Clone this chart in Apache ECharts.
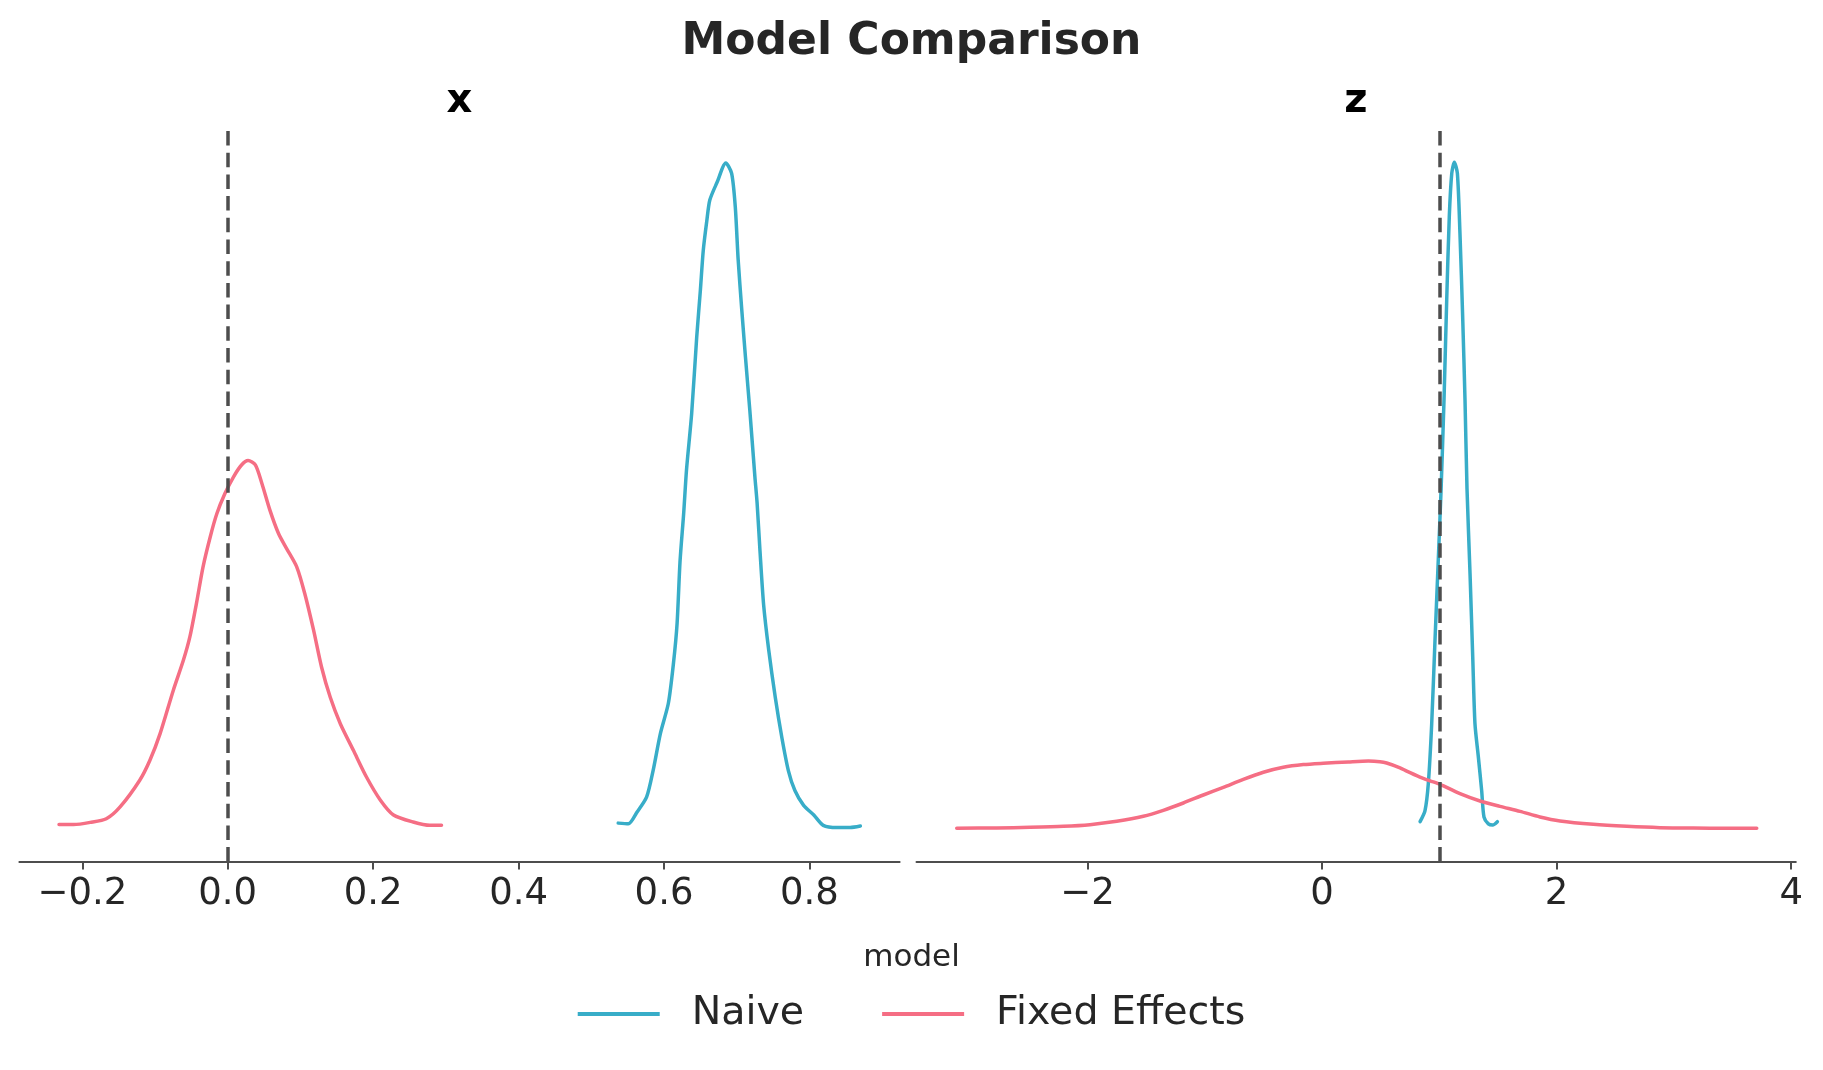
<!DOCTYPE html>
<html><head><meta charset="utf-8">
<script src="https://cdn.jsdelivr.net/npm/echarts@6/dist/echarts.min.js"></script>
<style>html,body{margin:0;padding:0;background:#fff}#c{width:1823px;height:1070px}</style>
</head><body><div id="c"></div>
<script>
// ---- data ----
const models = ['Naive', 'Fixed Effects'];
const panelTitles = ['x', 'z'];
const xTicks = [-0.2, 0, 0.2, 0.4, 0.6, 0.8];
const zTicks = [-2, 0, 2, 4];
const refX = 0;
const refZ = 1;

// panel x : Naive
const naiveX_x = [0.537,0.551,0.563,0.576,0.585,0.595,0.606,0.613,0.618,0.622,0.627,0.631,0.638,0.645,0.650,0.654,0.659,0.663,0.673,0.685,0.693,0.698,0.702,0.707,0.712,0.718,0.725,0.728,0.732,0.737,0.744,0.753,0.762,0.771,0.780,0.792,0.806,0.819,0.838,0.856,0.870];
const naiveX_d = [0.07,0.06,0.22,0.42,0.78,1.28,1.69,2.23,2.77,3.60,4.25,4.85,5.60,6.64,7.27,7.81,8.22,8.49,8.73,8.99,8.85,8.40,7.68,7.00,6.37,5.65,4.75,4.40,3.75,3.02,2.41,1.77,1.23,0.78,0.51,0.31,0.18,0.04,0.01,0.01,0.03];
// panel x : Fixed Effects
const fixedX_x = [-0.232,-0.212,-0.189,-0.167,-0.148,-0.121,-0.107,-0.093,-0.075,-0.061,-0.052,-0.043,-0.034,-0.024,-0.015,-0.004,0.008,0.019,0.028,0.038,0.047,0.058,0.070,0.081,0.095,0.106,0.118,0.129,0.141,0.155,0.173,0.191,0.210,0.228,0.255,0.278,0.294];
const fixedX_d = [0.05,0.05,0.08,0.13,0.29,0.65,0.92,1.28,1.86,2.27,2.59,3.04,3.53,3.94,4.25,4.52,4.75,4.91,4.97,4.91,4.66,4.30,3.98,3.78,3.53,3.17,2.68,2.18,1.77,1.41,1.05,0.69,0.38,0.18,0.085,0.04,0.04];
// panel z : Naive
const naiveZ_x = [0.836,0.878,0.906,0.935,0.963,0.992,1.015,1.040,1.063,1.085,1.106,1.128,1.154,1.176,1.199,1.219,1.236,1.262,1.285,1.304,1.333,1.361,1.381,1.418,1.455,1.495];
const naiveZ_d = [0.06,0.16,0.40,0.94,1.69,2.44,3.05,3.86,4.76,5.51,5.90,6.00,5.90,5.36,4.61,3.86,3.06,2.29,1.54,0.94,0.64,0.34,0.10,0.04,0.03,0.06];
// panel z : Fixed Effects
const fixedZ_x = [-3.114,-2.773,-2.489,-2.205,-1.978,-1.750,-1.523,-1.353,-1.182,-1.012,-0.841,-0.671,-0.500,-0.330,-0.159,0.011,0.224,0.395,0.494,0.551,0.665,0.722,0.835,0.921,1.006,1.176,1.347,1.517,1.688,1.858,2.029,2.313,2.598,2.881,3.165,3.450,3.706];
const fixedZ_d = [0.001,0.003,0.009,0.018,0.033,0.063,0.108,0.162,0.228,0.300,0.369,0.441,0.505,0.550,0.574,0.586,0.598,0.606,0.600,0.588,0.545,0.515,0.462,0.428,0.396,0.312,0.246,0.198,0.153,0.102,0.066,0.036,0.018,0.006,0.002,0.001,0.001];

// ---- styling ----
const FONT = 'DejaVu Sans';
const C_NAIVE = '#38adc8';
const C_FIXED = '#f56e84';
const AXIS_C = '#4d4d4d';
const TXT = '#262626';

const zip = (a, b) => a.map((v, i) => [v, b[i]]);
const fmt = d => v => (v < 0 ? '\u2212' : '') + Math.abs(v).toFixed(d);

function xAxisCfg(grid, min, max, ticks, digits) {
  return {
    type: 'value', gridIndex: grid, min: min, max: max,
    axisLine: { show: true, onZero: false, lineStyle: { color: AXIS_C, width: 2 } },
    axisTick: { show: true, customValues: ticks, length: 8, lineStyle: { color: AXIS_C, width: 2 } },
    axisLabel: { show: true, customValues: ticks, formatter: fmt(digits), fontSize: 37, color: TXT, fontFamily: FONT, margin: 14 },
    splitLine: { show: false }
  };
}
function lineSeries(name, color, xi, data, refVal) {
  const s = {
    type: 'line', name: name, xAxisIndex: xi, yAxisIndex: xi, data: data,
    showSymbol: false, symbol: 'none', smooth: 0.25, sampling: null,
    lineStyle: { color: color, width: 3.5, cap: 'round', join: 'round' },
    itemStyle: { color: color }, animation: false, z: 2
  };
  if (refVal !== undefined) {
    s.markLine = {
      silent: true, symbol: ['none', 'none'], label: { show: false }, animation: false,
      lineStyle: { color: AXIS_C, type: [14.5, 7.2], width: 3.5 },
      data: [{ xAxis: refVal }]
    };
  }
  return s;
}

const chart = echarts.init(document.getElementById('c'), null, { renderer: 'canvas' });
chart.setOption({
  backgroundColor: '#ffffff',
  animation: false,
  title: [
    { text: 'Model Comparison', left: 'center', top: 21, padding: 0,
      textStyle: { fontSize: 44, lineHeight: 44, fontWeight: 'bold', color: TXT, fontFamily: FONT } },
    { text: panelTitles[0], left: 459.5, top: 82, padding: 0, textAlign: 'center',
      textStyle: { fontSize: 40, lineHeight: 40, fontWeight: 'bold', color: '#000', fontFamily: FONT } },
    { text: panelTitles[1], left: 1356, top: 82, padding: 0, textAlign: 'center',
      textStyle: { fontSize: 40, lineHeight: 40, fontWeight: 'bold', color: '#000', fontFamily: FONT } },
    { text: 'model', left: 911.5, top: 942, padding: 0, textAlign: 'center',
      textStyle: { fontSize: 31, lineHeight: 31, fontWeight: 'normal', color: TXT, fontFamily: FONT } }
  ],
  legend: {
    data: models, left: 'center', top: 992, orient: 'horizontal',
    icon: 'rect', itemWidth: 82, itemHeight: 4, itemGap: 78, padding: 0,
    textStyle: { fontSize: 39.5, lineHeight: 44, color: TXT, fontFamily: FONT, padding: [0, 0, 0, 27] }
  },
  grid: [
    { left: 19.4, top: 129, width: 880.2, height: 732.6 },
    { left: 916.5, top: 129, width: 879.3, height: 732.6 }
  ],
  xAxis: [
    xAxisCfg(0, -0.2865, 0.924, xTicks, 1),
    xAxisCfg(1, -3.457, 4.039, zTicks, 0)
  ],
  yAxis: [
    { type: 'value', gridIndex: 0, min: -0.45, max: 9.45, show: false, splitLine: { show: false } },
    { type: 'value', gridIndex: 1, min: -0.3, max: 6.3, show: false, splitLine: { show: false } }
  ],
  series: [
    lineSeries(models[0], C_NAIVE, 0, zip(naiveX_x, naiveX_d), refX),
    lineSeries(models[1], C_FIXED, 0, zip(fixedX_x, fixedX_d)),
    lineSeries(models[0], C_NAIVE, 1, zip(naiveZ_x, naiveZ_d), refZ),
    lineSeries(models[1], C_FIXED, 1, zip(fixedZ_x, fixedZ_d))
  ]
});
</script>
</body></html>
